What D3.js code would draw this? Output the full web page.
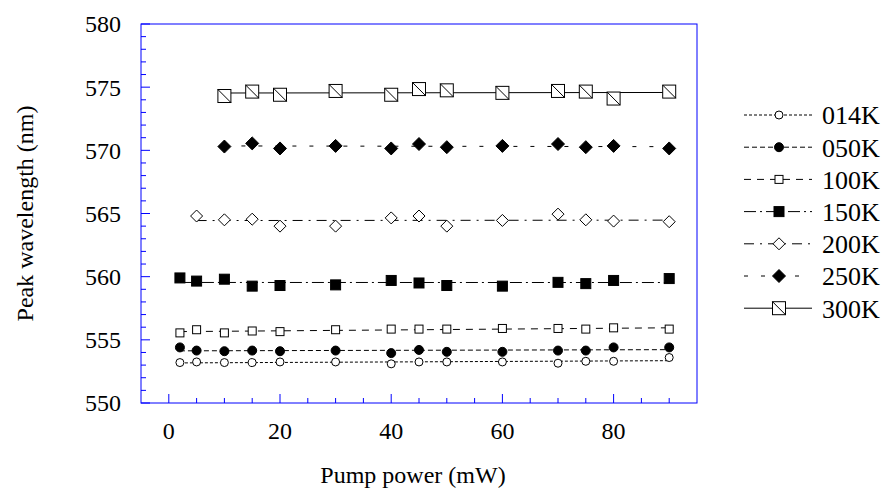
<!DOCTYPE html>
<html>
<head>
<meta charset="utf-8">
<script src="https://cdn.jsdelivr.net/npm/d3@7"></script>
<style>
  html, body { margin: 0; padding: 0; background: #fff; }
  svg { display: block; }
</style>
</head>
<body>
<svg id="chart" width="885" height="491"></svg>
<script>
// ---- data ----
const seriesNames = ["014K", "050K", "100K", "150K", "200K", "250K", "300K"];
const powerAll = [2, 5, 10, 15, 20, 30, 40, 45, 50, 60, 70, 75, 80, 90];
const power200 = [5, 10, 15, 20, 30, 40, 45, 50, 60, 70, 75, 80, 90];
const powerHigh = [10, 15, 20, 30, 40, 45, 50, 60, 70, 75, 80, 90];
const peak014 = [553.2, 553.25, 553.2, 553.2, 553.25, 553.25, 553.1, 553.25, 553.25, 553.25, 553.15, 553.3, 553.3, 553.6];
const peak050 = [554.4, 554.15, 554.1, 554.15, 554.1, 554.15, 553.95, 554.2, 554.05, 554.05, 554.15, 554.15, 554.4, 554.4];
const peak100 = [555.55, 555.8, 555.55, 555.7, 555.65, 555.8, 555.85, 555.85, 555.85, 555.9, 555.9, 555.85, 555.95, 555.85];
const peak150 = [559.9, 559.65, 559.8, 559.25, 559.3, 559.35, 559.7, 559.5, 559.3, 559.25, 559.55, 559.45, 559.7, 559.85];
const peak200 = [564.8, 564.5, 564.55, 564.0, 564.0, 564.65, 564.8, 564.0, 564.45, 564.95, 564.5, 564.4, 564.35];
const peak250 = [570.3, 570.55, 570.15, 570.35, 570.15, 570.5, 570.25, 570.35, 570.5, 570.25, 570.35, 570.15];
const peak300 = [574.3, 574.65, 574.4, 574.7, 574.4, 574.85, 574.75, 574.55, 574.7, 574.65, 574.1, 574.65];
const yTickLabels = [550, 555, 560, 565, 570, 575, 580];
const xTickLabels = [0, 20, 40, 60, 80];

const seriesX = [powerAll, powerAll, powerAll, powerAll, power200, powerHigh, powerHigh];
const seriesY = [peak014, peak050, peak100, peak150, peak200, peak250, peak300];

// ---- styles ----
const FONT = "'Liberation Serif'";
const markerStyle = [
  { shape: "circle",  size: 4,   fill: "#fff" },
  { shape: "circle",  size: 4.5, fill: "#000" },
  { shape: "square",  size: 4,   fill: "#fff" },
  { shape: "square",  size: 5,   fill: "#000" },
  { shape: "diamond", size: 6,   fill: "#fff" },
  { shape: "diamond", size: 6.5, fill: "#000" },
  { shape: "slash",   size: 6.5, fill: "#fff" }
];
const dashStyle = ["3,2", "5,3", "7,6", "12,4,2,4", "10,6,2,6", "4,13", null];

// ---- layout ----
const svg = d3.select("#chart");
const L = 141, R = 697, T = 24, B = 403;
const x = d3.scaleLinear().domain([-5, 95]).range([L, R]);
const y = d3.scaleLinear().domain([550, 580]).range([B, T]);
const axisColor = "#0000ff";

function styleText(sel, size) {
  return sel.style("font-family", FONT).style("font-size", size + "px").attr("fill", "#000");
}

function drawMarker(g, cx, cy, st) {
  const s = st.size;
  if (st.shape === "circle") {
    g.append("circle").attr("cx", cx).attr("cy", cy).attr("r", s)
      .attr("fill", st.fill).attr("stroke", "#000").attr("stroke-width", 1);
  } else if (st.shape === "square" || st.shape === "slash") {
    g.append("rect").attr("x", cx - s).attr("y", cy - s).attr("width", 2 * s).attr("height", 2 * s)
      .attr("fill", st.fill).attr("stroke", "#000").attr("stroke-width", 1);
    if (st.shape === "slash") {
      g.append("line").attr("x1", cx - s).attr("y1", cy - s).attr("x2", cx + s).attr("y2", cy + s)
        .attr("stroke", "#000").attr("stroke-width", 1);
    }
  } else if (st.shape === "diamond") {
    g.append("path").attr("d", `M${cx},${cy - s}L${cx + s},${cy}L${cx},${cy + s}L${cx - s},${cy}Z`)
      .attr("fill", st.fill).attr("stroke", "#000").attr("stroke-width", 1);
  }
}

// ---- frame ----
svg.append("rect").attr("x", L).attr("y", T).attr("width", R - L).attr("height", B - T)
  .attr("fill", "none").attr("stroke", axisColor).attr("stroke-width", 1);

// ---- axes (ticks inward) ----
const yAxisG = svg.append("g").attr("transform", `translate(${L},0)`);
const yMinor = d3.range(550, 581, 1);
yAxisG.selectAll("line.t").data(yMinor).join("line")
  .attr("x1", 0).attr("x2", d => (d % 5 === 0 ? 9 : 5))
  .attr("y1", d => y(d)).attr("y2", d => y(d))
  .attr("stroke", axisColor).attr("stroke-width", 1);
styleText(yAxisG.selectAll("text").data(yTickLabels).join("text")
  .attr("x", -20).attr("y", d => y(d)).attr("dy", "0.35em")
  .attr("text-anchor", "end"), 24)
  .text(d => d);

const xAxisG = svg.append("g").attr("transform", `translate(0,${B})`);
const xMinor = d3.range(0, 95, 5);
xAxisG.selectAll("line.t").data(xMinor).join("line")
  .attr("x1", d => x(d)).attr("x2", d => x(d))
  .attr("y1", 0).attr("y2", d => (d % 20 === 0 ? -9 : -5))
  .attr("stroke", axisColor).attr("stroke-width", 1);
styleText(xAxisG.selectAll("text").data(xTickLabels).join("text")
  .attr("x", d => x(d)).attr("y", 36)
  .attr("text-anchor", "middle"), 24)
  .text(d => d);

// axis titles
styleText(svg.append("text").attr("x", (L + R) / 2 - 6).attr("y", 483)
  .attr("text-anchor", "middle"), 24)
  .text("Pump power (mW)");
styleText(svg.append("text").attr("transform", `translate(33,${(T + B) / 2}) rotate(-90)`)
  .attr("text-anchor", "middle"), 24)
  .text("Peak wavelength (nm)");

// ---- linear fit lines ----
function fit(xs, ys) {
  const n = xs.length;
  const mx = d3.mean(xs), my = d3.mean(ys);
  let sxy = 0, sxx = 0;
  for (let i = 0; i < n; i++) { sxy += (xs[i] - mx) * (ys[i] - my); sxx += (xs[i] - mx) ** 2; }
  const b = sxy / sxx, a = my - b * mx;
  return v => a + b * v;
}
const plotG = svg.append("g");
seriesNames.forEach((name, i) => {
  const xs = seriesX[i], ys = seriesY[i];
  const f = fit(xs, ys);
  const x0 = d3.min(xs), x1 = d3.max(xs);
  plotG.append("line")
    .attr("x1", x(x0)).attr("y1", y(f(x0))).attr("x2", x(x1)).attr("y2", y(f(x1)))
    .attr("stroke", "#000").attr("stroke-width", 1)
    .attr("stroke-dasharray", dashStyle[i]);
});
seriesNames.forEach((name, i) => {
  const xs = seriesX[i], ys = seriesY[i];
  const g = plotG.append("g");
  xs.forEach((xv, j) => drawMarker(g, x(xv), y(ys[j]), markerStyle[i]));
});

// ---- legend ----
const legendG = svg.append("g");
const rowY0 = 115, rowStep = 32.2;
seriesNames.forEach((name, i) => {
  const ry = rowY0 + i * rowStep;
  legendG.append("line").attr("x1", 744).attr("x2", 812).attr("y1", ry).attr("y2", ry)
    .attr("stroke", "#000").attr("stroke-width", 1).attr("stroke-dasharray", dashStyle[i]);
  drawMarker(legendG, 779, ry, markerStyle[i]);
  styleText(legendG.append("text").attr("x", 822).attr("y", ry).attr("dy", "0.36em"), 26)
    .text(name);
});
</script>
</body>
</html>
